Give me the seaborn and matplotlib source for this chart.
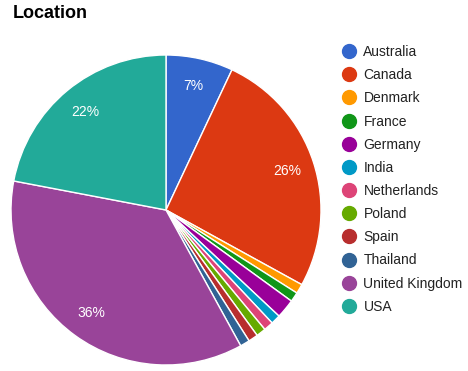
import matplotlib
matplotlib.use("Agg")
import matplotlib.pyplot as plt
from matplotlib.lines import Line2D
import seaborn as sns

categories = ["Australia", "Canada", "Denmark", "France", "Germany", "India",
              "Netherlands", "Poland", "Spain", "Thailand", "United Kingdom", "USA"]
values = [7, 26, 1, 1, 2, 1, 1, 1, 1, 1, 36, 22]
colors = ["#3366cc", "#dc3912", "#ff9900", "#109618", "#990099", "#0099c6",
          "#dd4477", "#66aa00", "#b82e2e", "#316395", "#994499", "#22aa99"]
title = "Location"

sns.set_style("white")
plt.rcParams["font.family"] = ["Liberation Sans", "DejaVu Sans"]

W, H = 468, 371
fig = plt.figure(figsize=(W / 100, H / 100), dpi=100)
cx, cy, r = 166, 210, 155
ax = fig.add_axes([(cx - r) / W, 1 - (cy + r) / H, 2 * r / W, 2 * r / H])

def fmt(p):
    return f"{p:.0f}%" if p >= 5 else ""

wedges, texts, autotexts = ax.pie(
    values, colors=colors, startangle=90, counterclock=False,
    autopct=fmt, pctdistance=0.82,
    wedgeprops=dict(edgecolor="white", linewidth=1),
    textprops=dict(color="white", fontsize=10))
ax.set_aspect("equal")
ax.set_xlim(-1, 1)
ax.set_ylim(-1, 1)
ax.axis("off")

fig.text(13 / W, 1 - 13 / H, title, fontsize=13, fontweight="bold",
         va="center", ha="left", color="#000000")

handles = [Line2D([0], [0], marker="o", linestyle="none", markersize=10,
                  markerfacecolor=c, markeredgecolor=c) for c in colors]
leg = fig.legend(handles, categories, loc="upper left",
                 bbox_to_anchor=(344 / W, 1 - 45 / H), frameon=False,
                 fontsize=10, handlelength=0.7, handletextpad=0.7,
                 labelspacing=0.66, borderaxespad=0, borderpad=0)
for t in leg.get_texts():
    t.set_color("#222222")

fig.savefig("out.png", dpi=100)
